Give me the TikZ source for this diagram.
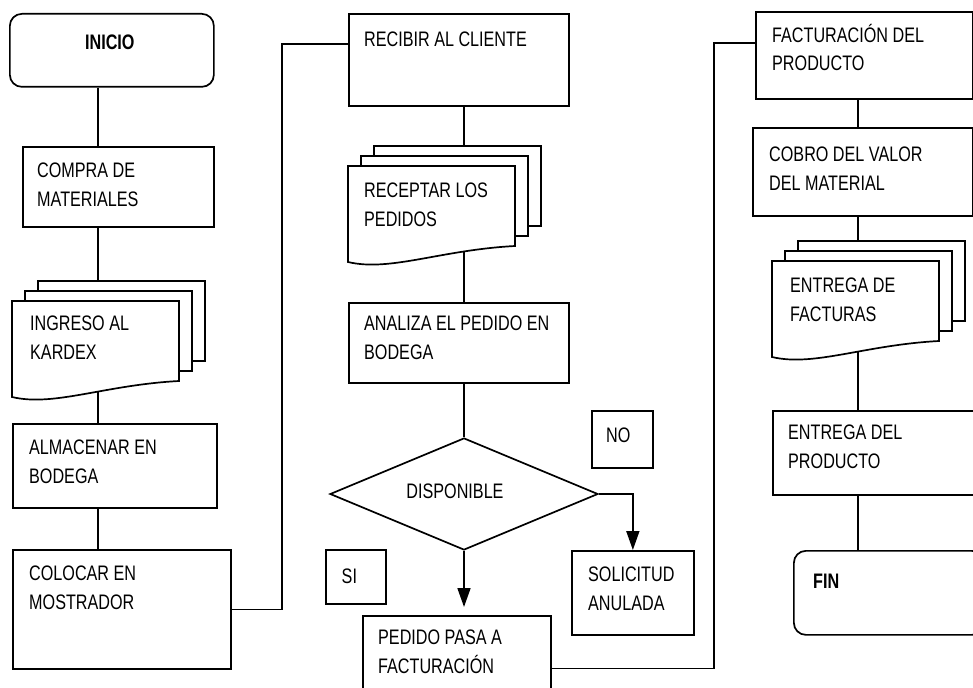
\documentclass[tikz,border=0pt]{standalone}
\usepackage{fontspec}
\setmainfont{Liberation Sans}[FakeStretch=0.77]
\usetikzlibrary{shapes.geometric,arrows.meta}

\tikzset{
  caja/.style={draw, line width=1.7pt, inner sep=0pt, anchor=north west},
  texto/.style={font=\fontsize{21}{28.5}\selectfont, align=left, inner sep=0pt, anchor=north west},
  linea/.style={line width=1.7pt},
  flecha/.style={line width=1.7pt, -{Triangle[length=19pt,width=13pt]}},
}

% pila de tres hojas (documento multiple), #1 = hoja delantera
\newcommand{\pilahojas}[1]{%
  \draw[linea, fill=white] ([shift={(26,-20)}]#1.north west) rectangle ++(167,80);
  \draw[linea, fill=white] ([shift={(13,-10)}]#1.north west) rectangle ++(167,80);
  \draw[linea, fill=white] (#1.north west) -- (#1.north east) -- (#1.south east)
    .. controls ([shift={(92,4)}]#1.south west) and ([shift={(42,26)}]#1.south west)
    .. ([shift={(0,16)}]#1.south west) -- cycle;
}

\begin{document}
\begin{tikzpicture}[x=1pt, y=-1pt]
\useasboundingbox (0,0) rectangle (973,687);
\clip (0,0) rectangle (973,687);

% ejes de las columnas
\coordinate (ejeA) at (98,0);
\coordinate (ejeB) at (464,0);
\coordinate (ejeC) at (858,0);

% columna izquierda
\node[caja, minimum width=204pt, minimum height=73pt, rounded corners=12pt] (inicio) at (9,13) {};
\node[texto, anchor=center, font=\fontsize{21}{28.5}\selectfont\bfseries] (inicio-t) at ([shift={(-2,29.5)}]inicio.north) {INICIO};
\node[caja, minimum width=191pt, minimum height=80pt] (compra) at (22,146) {};
\node[texto] (compra-t) at ([shift={(15,17)}]compra.north west) {COMPRA DE\\MATERIALES};
\node[inner sep=0pt, outer sep=0pt, minimum width=167pt, minimum height=80pt, anchor=north west] (ingreso) at (12,301) {};
\node[caja, minimum width=204pt, minimum height=84pt] (almacenar) at (12,423) {};
\node[texto] (almacenar-t) at ([shift={(17,17)}]almacenar.north west) {ALMACENAR EN\\BODEGA};
\node[caja, minimum width=218pt, minimum height=119pt] (colocar) at (12,549) {};
\node[texto] (colocar-t) at ([shift={(17,17)}]colocar.north west) {COLOCAR EN\\MOSTRADOR};

% columna central
\node[caja, minimum width=220pt, minimum height=92pt] (recibir) at (348,13) {};
\node[texto] (recibir-t) at ([shift={(16,19)}]recibir.north west) {RECIBIR AL CLIENTE};
\node[inner sep=0pt, outer sep=0pt, minimum width=167pt, minimum height=80pt, anchor=north west] (receptar) at (348,166) {};
\node[caja, minimum width=220pt, minimum height=80pt] (analiza) at (348,302) {};
\node[texto] (analiza-t) at ([shift={(16,14)}]analiza.north west) {ANALIZA EL PEDIDO EN\\BODEGA};
\node[caja, diamond, anchor=center, minimum width=268pt, minimum height=112pt] (disp) at (464,494) {};
\node[texto, anchor=center] (disp-t) at ([shift={(-9,-2.5)}]disp.center) {DISPONIBLE};
\node[caja, minimum width=61pt, minimum height=57pt] (cajaNo) at (591,410) {};
\node[texto, anchor=center] (cajaNo-t) at ([shift={(-4,-4)}]cajaNo.center) {NO};
\node[caja, minimum width=60pt, minimum height=54pt] (cajaSi) at (325,549) {};
\node[texto, anchor=center] (cajaSi-t) at ([shift={(-6.5,-1)}]cajaSi.center) {SI};
\node[caja, minimum width=122pt, minimum height=84pt] (solicitud) at (571,550) {};
\node[texto] (solicitud-t) at ([shift={(17,17)}]solicitud.north west) {SOLICITUD\\ANULADA};
\node[caja, minimum width=188pt, minimum height=105pt] (pedido) at (362,615) {};
\node[texto] (pedido-t) at ([shift={(16,15)}]pedido.north west) {PEDIDO PASA A\\FACTURACIÓN};

% columna derecha
\node[caja, minimum width=217pt, minimum height=87pt] (factura) at (755,11) {};
\node[texto] (factura-t) at ([shift={(17,13)}]factura.north west) {FACTURACIÓN DEL\\PRODUCTO};
\node[caja, minimum width=220pt, minimum height=88pt] (cobro) at (752,127) {};
\node[texto] (cobro-t) at ([shift={(17,20)}]cobro.north west) {COBRO DEL VALOR\\DEL MATERIAL};
\node[inner sep=0pt, outer sep=0pt, minimum width=167pt, minimum height=80pt, anchor=north west] (facturas) at (772,261) {};
\node[caja, minimum width=205pt, minimum height=84pt] (entrega) at (772,410) {};
\node[texto] (entrega-t) at ([shift={(16,15)}]entrega.north west) {ENTREGA DEL\\PRODUCTO};
\node[caja, minimum width=190pt, minimum height=84pt, rounded corners=12pt] (fin) at (793,550) {};
\node[texto, anchor=west, font=\fontsize{21}{28.5}\selectfont\bfseries] (fin-t) at ([shift={(20,31.5)}]fin.north west) {FIN};

% conectores
\draw[linea] (inicio.south -| ejeA) -- (compra.north -| ejeA);
\draw[linea] (compra.south -| ejeA) -- (ingreso.north -| ejeA);
\draw[linea] (ingreso.south -| ejeA) -- (almacenar.north -| ejeA);
\draw[linea] (almacenar.south -| ejeA) -- (colocar.north -| ejeA);
\draw[linea] (colocar.east) -| ([shift={(-66,-16)}]recibir.west) -- ([shift={(0,-16)}]recibir.west);

\draw[linea] (recibir.south -| ejeB) -- (receptar.north -| ejeB);
\draw[linea] (receptar.south -| ejeB) -- (analiza.north -| ejeB);
\draw[linea] (analiza.south -| ejeB) -- (disp.north);
\draw[flecha, shorten >=8pt] (disp.south) -- (disp.south |- pedido.north);
\draw[flecha] (disp.east) -| (solicitud.north);
\draw[linea] (pedido.east) -| ([shift={(-41,-12)}]factura.west) -- ([shift={(0,-12)}]factura.west);

\draw[linea] (factura.south -| ejeC) -- (cobro.north -| ejeC);
\draw[linea] (cobro.south -| ejeC) -- (facturas.north -| ejeC);
\draw[linea] (facturas.south -| ejeC) -- (entrega.north -| ejeC);
\draw[linea] (entrega.south -| ejeC) -- (fin.north -| ejeC);

% documentos
\pilahojas{ingreso}
\node[texto] (ingreso-t) at ([shift={(18,15)}]ingreso.north west) {INGRESO AL\\KARDEX};
\pilahojas{receptar}
\node[texto] (receptar-t) at ([shift={(16,17)}]receptar.north west) {RECEPTAR LOS\\PEDIDOS};
\pilahojas{facturas}
\node[texto] (facturas-t) at ([shift={(18,17)}]facturas.north west) {ENTREGA DE\\FACTURAS};
\end{tikzpicture}
\end{document}
